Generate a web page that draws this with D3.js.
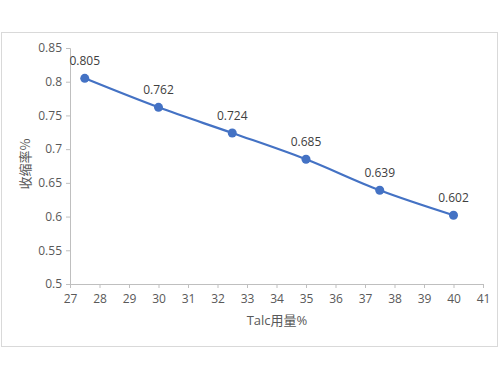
<!DOCTYPE html>
<html>
<head>
<meta charset="utf-8">
<script src="https://cdn.jsdelivr.net/npm/d3@7"></script>
<style>
  body { margin: 0; background: #fff; }
  svg { display: block; }
  .tick text { fill: #595959; font-size: 12px; font-family: "Open Sans", "Liberation Sans", sans-serif; }
</style>
</head>
<body>
<div id="chart"></div>
<script>
var talc = [27.5, 30, 32.5, 35, 37.5, 40];
var shrink = [0.805, 0.762, 0.724, 0.685, 0.639, 0.602];
var xTicks = [27, 28, 29, 30, 31, 32, 33, 34, 35, 36, 37, 38, 39, 40, 41];
var yTicks = [0.5, 0.55, 0.6, 0.65, 0.7, 0.75, 0.8, 0.85];

var width = 500, height = 375;
var svg = d3.select('#chart').append('svg')
    .attr('width', width)
    .attr('height', height);

// chart border
svg.append('rect')
    .attr('x', 1.5).attr('y', 32.5)
    .attr('width', 496).attr('height', 314)
    .style('fill', 'white')
    .style('stroke', '#d9d9d9');

var xScale = d3.scaleLinear().domain([27, 41]).range([70, 483]);
var yScale = d3.scaleLinear().domain([0.5, 0.85]).range([284, 48]);

var xAxis = svg.append('g')
    .attr('transform', 'translate(0,284)')
    .call(d3.axisBottom(xScale).tickValues(xTicks).tickSize(4).tickPadding(6).tickFormat(d3.format('d')));

var yAxis = svg.append('g')
    .attr('transform', 'translate(70,0)')
    .call(d3.axisLeft(yScale).tickValues(yTicks).tickSize(4).tickPadding(4).tickFormat(function(d){ return String(+d.toFixed(2)); }));

svg.selectAll('.domain, .tick line').style('stroke', '#bfbfbf');

var line = d3.line()
    .x(function(d, i){ return xScale(talc[i]); })
    .y(function(d){ return yScale(d); })
    .curve(d3.curveCatmullRom.alpha(0.5));

svg.append('path')
    .datum(shrink)
    .attr('d', line)
    .style('fill', 'none')
    .style('stroke', '#4472c4')
    .style('stroke-width', 2.2);

svg.selectAll('.dot')
    .data(shrink)
    .enter().append('circle')
    .attr('class', 'dot')
    .attr('cx', function(d, i){ return xScale(talc[i]); })
    .attr('cy', function(d){ return yScale(d); })
    .attr('r', 4.5)
    .style('fill', '#4472c4');

svg.selectAll('.lbl')
    .data(shrink)
    .enter().append('text')
    .attr('class', 'lbl')
    .attr('x', function(d, i){ return xScale(talc[i]); })
    .attr('y', function(d){ return yScale(d) - 13; })
    .attr('text-anchor', 'middle')
    .style('font-family', '"Open Sans", "Liberation Sans", sans-serif')
    .style('font-size', '12px')
    .style('fill', '#404040')
    .text(function(d){ return d.toFixed(3); });

svg.append('text')
    .attr('x', 277).attr('y', 325)
    .attr('text-anchor', 'middle')
    .style('font-family', '"Open Sans", "Noto Sans CJK SC", sans-serif')
    .style('font-size', '13px')
    .style('fill', '#595959')
    .text('Talc用量%');

svg.append('text')
    .attr('transform', 'translate(30,164) rotate(-90)')
    .attr('text-anchor', 'middle')
    .style('font-family', '"Noto Sans CJK SC", sans-serif')
    .style('font-size', '13px')
    .style('fill', '#595959')
    .text('收缩率%');
</script>
</body>
</html>
